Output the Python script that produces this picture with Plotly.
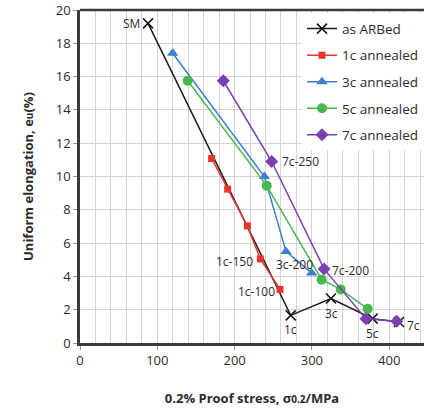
import plotly.graph_objects as go

# Proof stress (MPa) and uniform elongation (%) for each processing route
arb_x = [88, 272.6, 324.7, 378.6, 412.7]
arb_y = [19.2, 1.66, 2.67, 1.46, 1.26]
arb_labels = ["SM", "1c", "3c", "5c", "7c"]

c1_x = [170.3, 191.0, 216.5, 233.3, 258.7]
c1_y = [11.08, 9.24, 7.03, 5.05, 3.22]

c3_x = [119.9, 238.5, 266.5, 299.7]
c3_y = [17.4, 10.0, 5.5, 4.2]

c5_x = [139.3, 241.5, 312.6, 337.2, 372.2]
c5_y = [15.75, 9.45, 3.8, 3.22, 2.05]

c7_x = [185.4, 248.0, 315.7, 370.0, 409.7]
c7_y = [15.75, 10.9, 4.45, 1.45, 1.3]

x_ticks = [0, 100, 200, 300, 400]
y_ticks = [0, 2, 4, 6, 8, 10, 12, 14, 16, 18, 20]

FONT = "Open Sans"
TXT = "#2b2b2b"

fig = go.Figure()

series = [
    (arb_x, arb_y, "as ARBed", "#1a1a1a",
     dict(symbol="x-thin", size=10, line=dict(color="#1a1a1a", width=1.6))),
    (c1_x, c1_y, "1c annealed", "#e8342c",
     dict(symbol="square", size=7, color="#e8342c")),
    (c3_x, c3_y, "3c annealed", "#3d7ecf",
     dict(symbol="triangle-up", size=10, color="#3d7ecf")),
    (c5_x, c5_y, "5c annealed", "#46b84f",
     dict(symbol="circle", size=10, color="#46b84f")),
    (c7_x, c7_y, "7c annealed", "#7a3fb0",
     dict(symbol="diamond", size=10, color="#7a3fb0")),
]
for xs, ys, name, col, mk in series:
    fig.add_trace(go.Scatter(
        x=xs, y=ys, name=name, mode="lines+markers", legendgroup=name,
        line=dict(color=col, width=1.5), marker=mk,
    ))

# Point labels
label_style = dict(showarrow=False, font=dict(family=FONT, size=12, color=TXT))
anns = [
    dict(x=arb_x[0], y=arb_y[0], text=arb_labels[0], xanchor="right", xshift=-6),
    dict(x=arb_x[1], y=arb_y[1], text=arb_labels[1], yanchor="top", yshift=-4),
    dict(x=arb_x[2], y=arb_y[2], text=arb_labels[2], yanchor="top", yshift=-4),
    dict(x=arb_x[3], y=arb_y[3], text=arb_labels[3], yanchor="top", yshift=-4),
    dict(x=arb_x[4], y=arb_y[4], text=arb_labels[4], xanchor="left", xshift=6, yshift=-3),
    dict(x=c1_x[3], y=c1_y[3], text="1c-150", xanchor="right", xshift=-5, yshift=-3),
    dict(x=c1_x[4], y=c1_y[4], text="1c-100", xanchor="right", xshift=-3, yshift=-2),
    dict(x=c3_x[2], y=c3_y[2], text="3c-200", xanchor="center", xshift=8, yshift=-13),
    dict(x=c7_x[1], y=c7_y[1], text="7c-250", xanchor="left", xshift=8),
    dict(x=c7_x[2], y=c7_y[2], text="7c-200", xanchor="left", xshift=6, yshift=-2),
]
for a in anns:
    fig.add_annotation(**a, **label_style)

# Top frame line
fig.add_shape(type="line", xref="paper", yref="paper", x0=0, x1=1, y0=1, y1=1,
              line=dict(color="#3a3a3a", width=2.5))

axis_common = dict(
    showgrid=True, gridcolor="#d4d4d4", gridwidth=1,
    showline=True, linecolor="#3a3a3a", linewidth=2.5,
    ticks="outside", ticklen=4, tickcolor="#999999",
    tickfont=dict(family=FONT, size=13, color=TXT),
    zeroline=False,
)

fig.update_xaxes(
    range=[0, 445], tickvals=x_ticks, ticktext=[str(v) for v in x_ticks],
    minor=dict(dtick=20, tick0=0, showgrid=True, gridcolor="#d4d4d4", gridwidth=1),
    title=dict(
        text="<b>0.2% Proof stress, σ<span style='font-size:10px'>0.2</span>/MPa</b>",
        font=dict(family=FONT, size=13, color=TXT), standoff=26,
    ),
    **axis_common,
)
fig.update_yaxes(
    range=[0, 20], tickvals=y_ticks, ticktext=[str(v) for v in y_ticks],
    title=dict(
        text="<b>Uniform elongation, e<span style='font-size:10px'>u</span>(%)</b>",
        font=dict(family=FONT, size=13, color=TXT), standoff=20,
    ),
    **axis_common,
)

fig.update_layout(
    width=424, height=410,
    margin=dict(l=80, r=0, t=10, b=67),
    paper_bgcolor="white", plot_bgcolor="white",
    showlegend=True,
    legend=dict(
        x=1.0, y=0.99, xanchor="right", yanchor="top",
        bgcolor="white", borderwidth=0,
        font=dict(family=FONT, size=13.5, color=TXT),
        itemwidth=30, tracegroupgap=6,
    ),
)

fig.write_html("out.html")
